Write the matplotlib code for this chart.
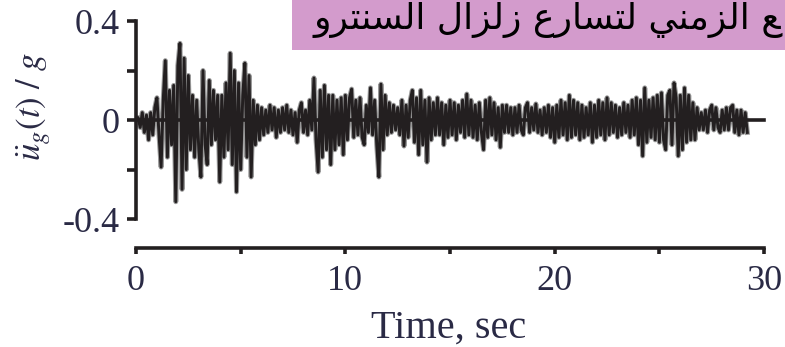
import numpy as np
import matplotlib
matplotlib.use("Agg")
import matplotlib.pyplot as plt
from matplotlib.patches import Rectangle

# ---------------- data ----------------
dt = 0.1  # s, sampling step of the digitised record
accel = [
    0.00, 0.01, -0.03, 0.03, -0.05, 0.02, -0.08, 0.03, -0.06, 0.05,
    0.09, -0.06, -0.19, 0.08, 0.24, -0.15, 0.12, -0.10, 0.14, -0.33,
    0.22, 0.31, -0.28, 0.25, -0.20, 0.18, -0.12, 0.10, -0.15, 0.08,
    -0.12, -0.23, 0.20, -0.10, -0.18, 0.16, -0.10, 0.12, -0.08, 0.10,
    -0.25, 0.10, -0.15, 0.15, -0.12, 0.27, -0.18, 0.20, -0.29, 0.15,
    -0.20, 0.10, 0.23, -0.15, 0.18, -0.23, 0.08, -0.10, 0.06, -0.08,
    0.05, -0.06, 0.04, -0.05, 0.06, -0.04, 0.05, -0.07, 0.04, -0.05,
    0.05, -0.04, 0.06, -0.05, 0.04, -0.06, 0.03, -0.09, 0.04, 0.07,
    -0.05, 0.04, -0.06, 0.08, -0.04, 0.17, -0.08, -0.21, 0.12, -0.15,
    0.14, -0.12, 0.10, -0.18, 0.10, -0.12, 0.08, -0.10, 0.09, -0.14,
    0.10, -0.08, 0.09, 0.125, -0.07, 0.08, -0.06, 0.09, -0.07, -0.10,
    0.06, -0.05, 0.13, -0.06, 0.08, -0.10, -0.23, 0.145, -0.12, 0.10,
    -0.06, 0.07, -0.05, 0.06, -0.04, 0.05, -0.06, 0.08, -0.105, 0.06,
    -0.07, 0.08, 0.12, -0.09, 0.09, -0.14, 0.12, -0.10, 0.08, -0.17,
    0.09, -0.08, 0.07, -0.06, 0.09, -0.06, 0.07, -0.10, 0.06, -0.07,
    0.08, -0.06, 0.07, -0.08, 0.06, -0.05, 0.08, -0.07, 0.105, -0.06,
    0.08, -0.07, 0.06, -0.08, 0.07, -0.05, -0.12, 0.08, -0.07, 0.09,
    -0.06, 0.07, -0.08, 0.05, -0.11, 0.06, -0.05, 0.06, -0.05, 0.05,
    -0.06, 0.05, -0.05, 0.06, -0.04, -0.06, 0.05, 0.07, -0.05, 0.05,
    -0.04, 0.065, -0.05, 0.04, -0.06, 0.05, -0.05, 0.06, -0.07, 0.05,
    -0.09, 0.06, -0.07, 0.08, -0.06, 0.07, -0.08, 0.10, -0.07, 0.08,
    -0.06, 0.07, -0.08, 0.06, -0.07, 0.05, -0.06, 0.07, -0.09, 0.06,
    -0.07, 0.08, -0.06, 0.07, -0.08, 0.09, -0.06, 0.07, -0.05, 0.06,
    -0.07, 0.05, -0.06, 0.07, -0.05, 0.06, -0.07, 0.08, -0.06, 0.09,
    -0.10, 0.08, -0.145, 0.13, -0.09, 0.08, -0.07, 0.09, -0.08, 0.10,
    -0.09, 0.11, -0.08, -0.12, 0.10, 0.12, -0.10, 0.15, 0.09, -0.145,
    0.10, -0.12, 0.13, -0.09, 0.10, -0.08, 0.07, -0.08, 0.05, -0.04,
    0.03, -0.04, 0.04, -0.05, 0.04, 0.06, -0.04, 0.05, -0.03, -0.05,
    0.04, -0.04, 0.05, -0.04, 0.05, 0.06, -0.05, 0.04, -0.06, 0.04,
    -0.05, 0.03, -0.05,
]
x_ticks = [0, 5, 10, 15, 20, 25, 30]
x_ticklabels = ["0", "", "10", "", "20", "", "30"]
y_ticks = [-0.4, -0.2, 0, 0.2, 0.4]
y_ticklabels = ["-0.4", "", "0", "", "0.4"]
x_label = "Time, sec"
y_label = r"$\ddot{u}_g(t)\ /\ g$"
# Arabic title (visual order, presentation forms): "...ع الزمني لتسارع زلزال السنترو"
title_ar = ("\uFEED\uFEAE\uFE98\uFEE8\uFEB4\uFEDF\uFE8D "
            "\uFEDD\uFE8D\uFEB0\uFEDF\uFEAF "
            "\uFEC9\uFEAD\uFE8E\uFEB4\uFE98\uFEDF "
            "\uFEF2\uFEE8\uFEE3\uFEB0\uFEDF\uFE8D "
            "\uFECA")

t = np.arange(len(accel)) * dt

# ---------------- figure ----------------
plt.rcParams["mathtext.fontset"] = "stix"
W, H = 785, 347
fig = plt.figure(figsize=(W / 100, H / 100), dpi=100)
ax = fig.add_axes([136 / W, (H - 248) / H, (W - 136) / W, 248 / H])

ink = "#231f20"
txt = "#2a2a45"

ax.plot(t, accel, color="#9a9a9a", lw=3.6, zorder=2)
ax.plot(t, accel, color=ink, lw=2.1, zorder=3)
ax.axhline(0, xmin=0, xmax=30 / 31.0, color=ink, lw=2.6, zorder=4)

ax.set_xlim(0, 31.0)
ax.set_ylim(-0.517, 0.485)

for s in ("top", "right"):
    ax.spines[s].set_visible(False)
ax.spines["left"].set_bounds(-0.4, 0.4)
ax.spines["bottom"].set_bounds(0, 30)
for s in ("left", "bottom"):
    ax.spines[s].set_linewidth(2.6)
    ax.spines[s].set_color(ink)
ax.patch.set_alpha(0)

ax.set_xticks(x_ticks)
ax.set_xticklabels(x_ticklabels)
ax.set_yticks(y_ticks)
ax.set_yticklabels(y_ticklabels)
ax.tick_params(axis="y", direction="out", length=6.5, width=2.6, color=ink,
               pad=5, labelsize=26, labelcolor=txt)
ax.tick_params(axis="x", direction="out", length=4.5, width=2.6, color=ink,
               pad=8, labelsize=26, labelcolor=txt)
for lab in ax.get_xticklabels() + ax.get_yticklabels():
    lab.set_family("Liberation Serif")

ax.set_xlabel(x_label, fontsize=29, family="Liberation Serif", color=txt)
ax.xaxis.set_label_coords(0.481, -0.25)
ax.set_ylabel(y_label, fontsize=25, color=txt, rotation=90)
ax.yaxis.set_label_coords(-0.128, 0.57)

# Arabic title box
fig.patches.append(Rectangle((292 / W, 1 - 50 / H), 1 - 292 / W, 50 / H,
                             transform=fig.transFigure, facecolor="#d39bcc",
                             edgecolor="none", zorder=5))
fig.text(313 / W, 1 - 29 / H, title_ar, fontsize=26, family=["DejaVu Sans"],
         color="black", ha="left", va="baseline", zorder=6)

fig.savefig("out.png", dpi=100)
